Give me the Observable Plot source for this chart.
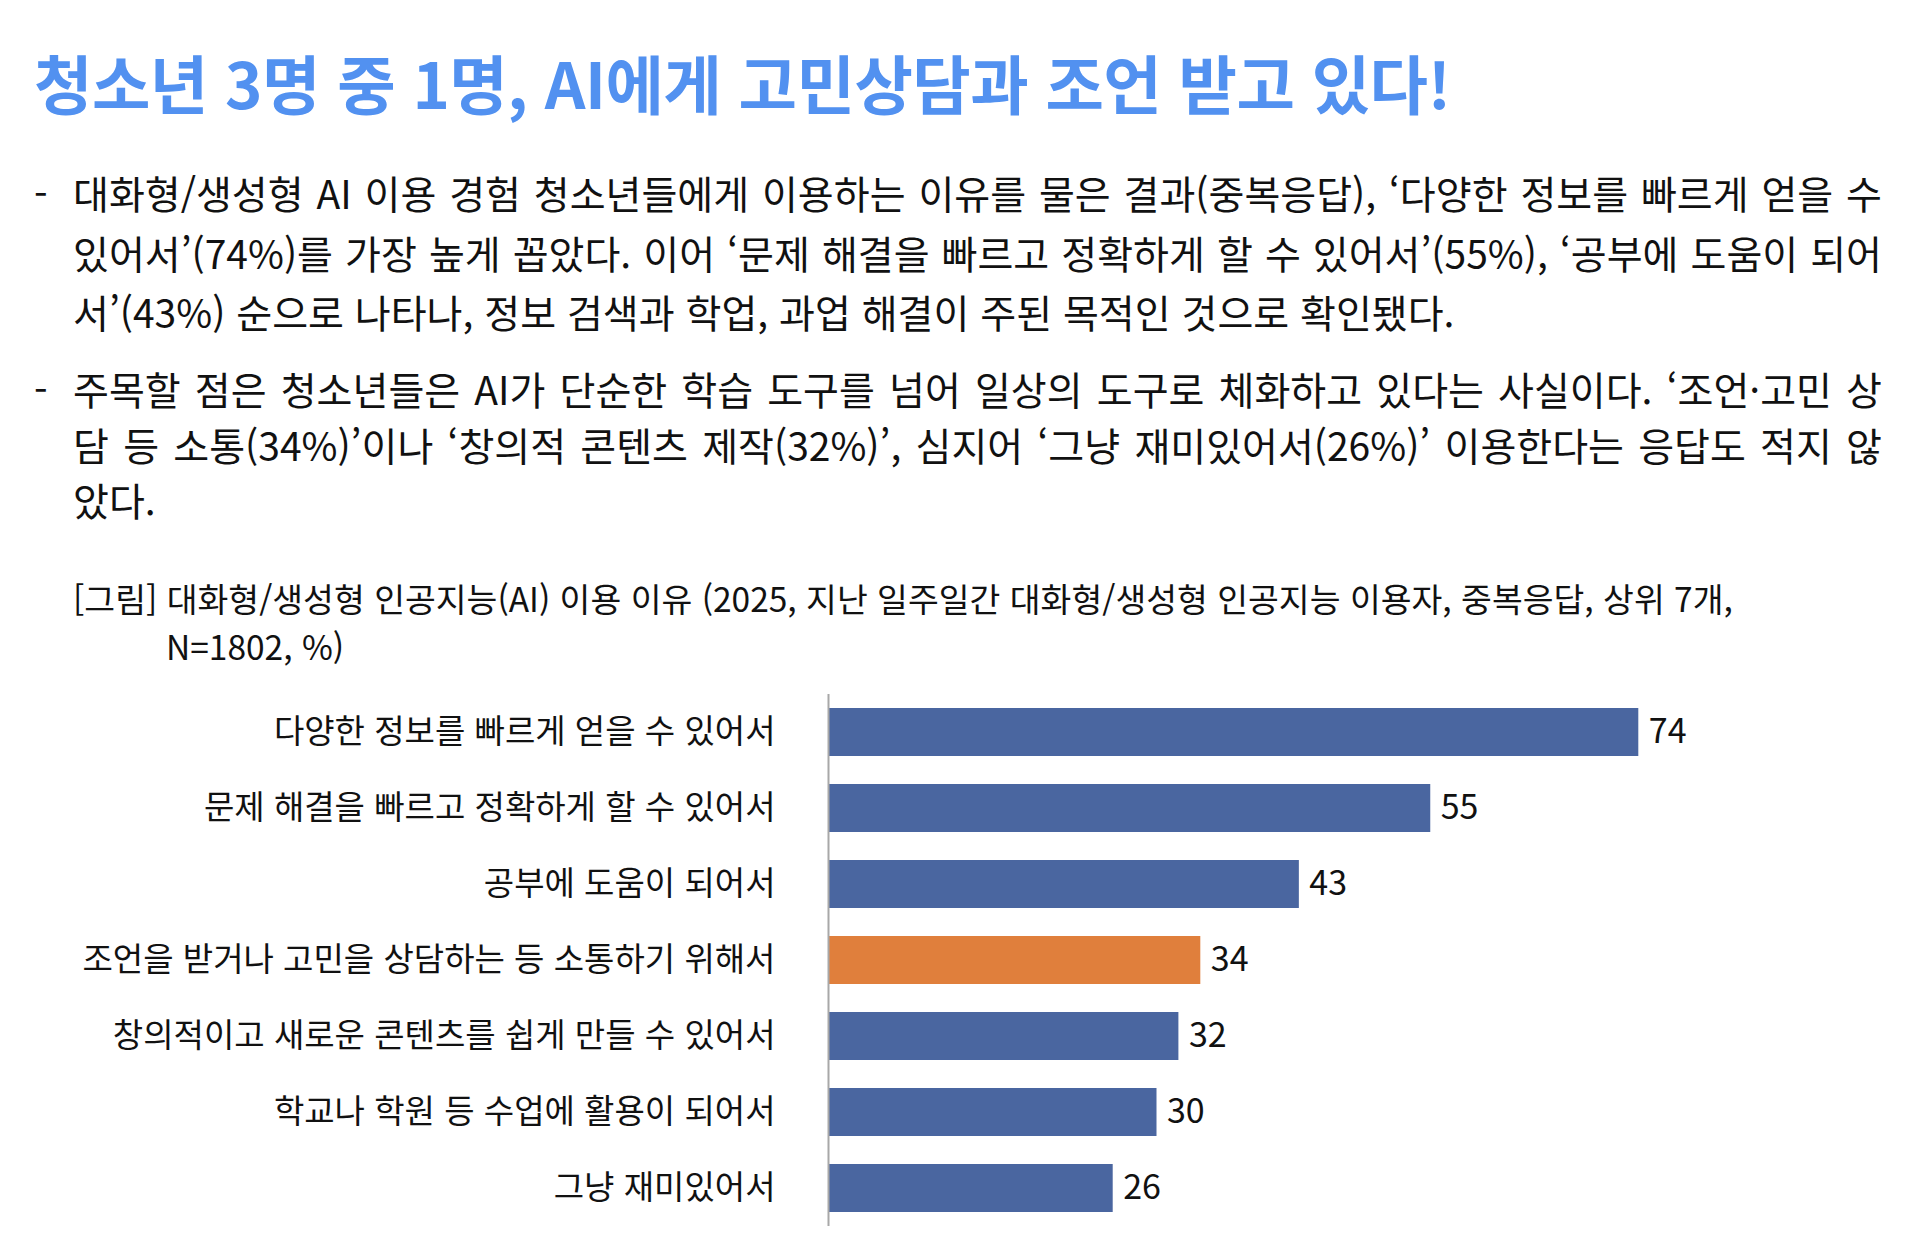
<!DOCTYPE html>
<html lang="ko">
<head>
<meta charset="utf-8">
<script src="https://cdn.jsdelivr.net/npm/d3@7"></script>
<script src="https://cdn.jsdelivr.net/npm/@observablehq/plot@0.6"></script>
<style>
  html, body { margin: 0; padding: 0; background: #ffffff; }
  body { width: 1920px; height: 1246px; position: relative; overflow: hidden;
         font-family: "Noto Sans CJK KR", "Noto Sans", sans-serif; color: #111; }
  #title { position: absolute; left: 34px; top: 43px; font-size: 63.5px; font-weight: 700;
           line-height: 76px; color: #5291f0; white-space: nowrap; letter-spacing: -0.5px; }
  .para { position: absolute; left: 73px; width: 1809px; font-size: 39px; }
  .para .ln { text-align: justify; text-align-last: justify; white-space: nowrap; }
  .para .ln.last { text-align: left; text-align-last: left; }
  .para .dash { position: absolute; left: -39px; top: 0; }
  #p1 { top: 163px; line-height: 59.5px; }
  #p2 { top: 361px; line-height: 55.5px; }
  #caption { position: absolute; left: 73px; top: 574px; font-size: 33.5px; line-height: 48px; white-space: nowrap; }
  #caption .l2 { padding-left: 93px; }
  #chart { position: absolute; left: 0; top: 676px; }
</style>
</head>
<body>
<div id="title">청소년 3명 중 1명, AI에게 고민상담과 조언 받고 있다!</div>

<div class="para" id="p1">
  <span class="dash">-</span>
  <div class="ln">대화형/생성형 AI 이용 경험 청소년들에게 이용하는 이유를 물은 결과(중복응답), ‘다양한 정보를 빠르게 얻을 수</div>
  <div class="ln">있어서’(74%)를 가장 높게 꼽았다. 이어 ‘문제 해결을 빠르고 정확하게 할 수 있어서’(55%), ‘공부에 도움이 되어</div>
  <div class="ln last">서’(43%) 순으로 나타나, 정보 검색과 학업, 과업 해결이 주된 목적인 것으로 확인됐다.</div>
</div>

<div class="para" id="p2">
  <span class="dash">-</span>
  <div class="ln">주목할 점은 청소년들은 AI가 단순한 학습 도구를 넘어 일상의 도구로 체화하고 있다는 사실이다. ‘조언·고민 상</div>
  <div class="ln">담 등 소통(34%)’이나 ‘창의적 콘텐츠 제작(32%)’, 심지어 ‘그냥 재미있어서(26%)’ 이용한다는 응답도 적지 않</div>
  <div class="ln last">았다.</div>
</div>

<div id="caption">
  <div>[그림] 대화형/생성형 인공지능(AI) 이용 이유 (2025, 지난 일주일간 대화형/생성형 인공지능 이용자, 중복응답, 상위 7개,</div>
  <div class="l2">N=1802, %)</div>
</div>

<div id="chart"></div>

<script>
// ---- Data ----
const categories = [
  "다양한 정보를 빠르게 얻을 수 있어서",
  "문제 해결을 빠르고 정확하게 할 수 있어서",
  "공부에 도움이 되어서",
  "조언을 받거나 고민을 상담하는 등 소통하기 위해서",
  "창의적이고 새로운 콘텐츠를 쉽게 만들 수 있어서",
  "학교나 학원 등 수업에 활용이 되어서",
  "그냥 재미있어서"
];
const values = [74, 55, 43, 34, 32, 30, 26];
const highlighted = "조언을 받거나 고민을 상담하는 등 소통하기 위해서";

const baseColor = "#4a66a0";
const highlightColor = "#e07f3c";

const data = categories.map((c, i) => ({category: c, value: values[i]}));

const chart = Plot.plot({
  width: 1920,
  height: 570,
  marginLeft: 828,
  marginRight: 216,
  marginTop: 18,
  marginBottom: 20,
  x: {domain: [0, 80], axis: null},
  y: {domain: categories, paddingInner: 0.37, paddingOuter: 0.185, label: null},
  style: {fontFamily: "'Noto Sans CJK KR', 'Noto Sans', sans-serif", fontSize: "33px", color: "#111", background: "transparent"},
  marks: [
    Plot.barX(data, {
      x: "value",
      y: "category",
      fill: d => d.category === highlighted ? highlightColor : baseColor
    }),
    Plot.ruleX([0], {stroke: "#a8a8a8", strokeWidth: 2}),
    Plot.text(data, {
      x: "value",
      y: "category",
      text: d => String(d.value),
      dx: 10,
      textAnchor: "start",
      fontSize: 34,
      fill: "#111"
    }),
    Plot.axisY({tickSize: 0, tickPadding: 53, fontSize: 33, label: null, fill: "#111"})
  ]
});
document.getElementById("chart").appendChild(chart);
</script>
</body>
</html>
